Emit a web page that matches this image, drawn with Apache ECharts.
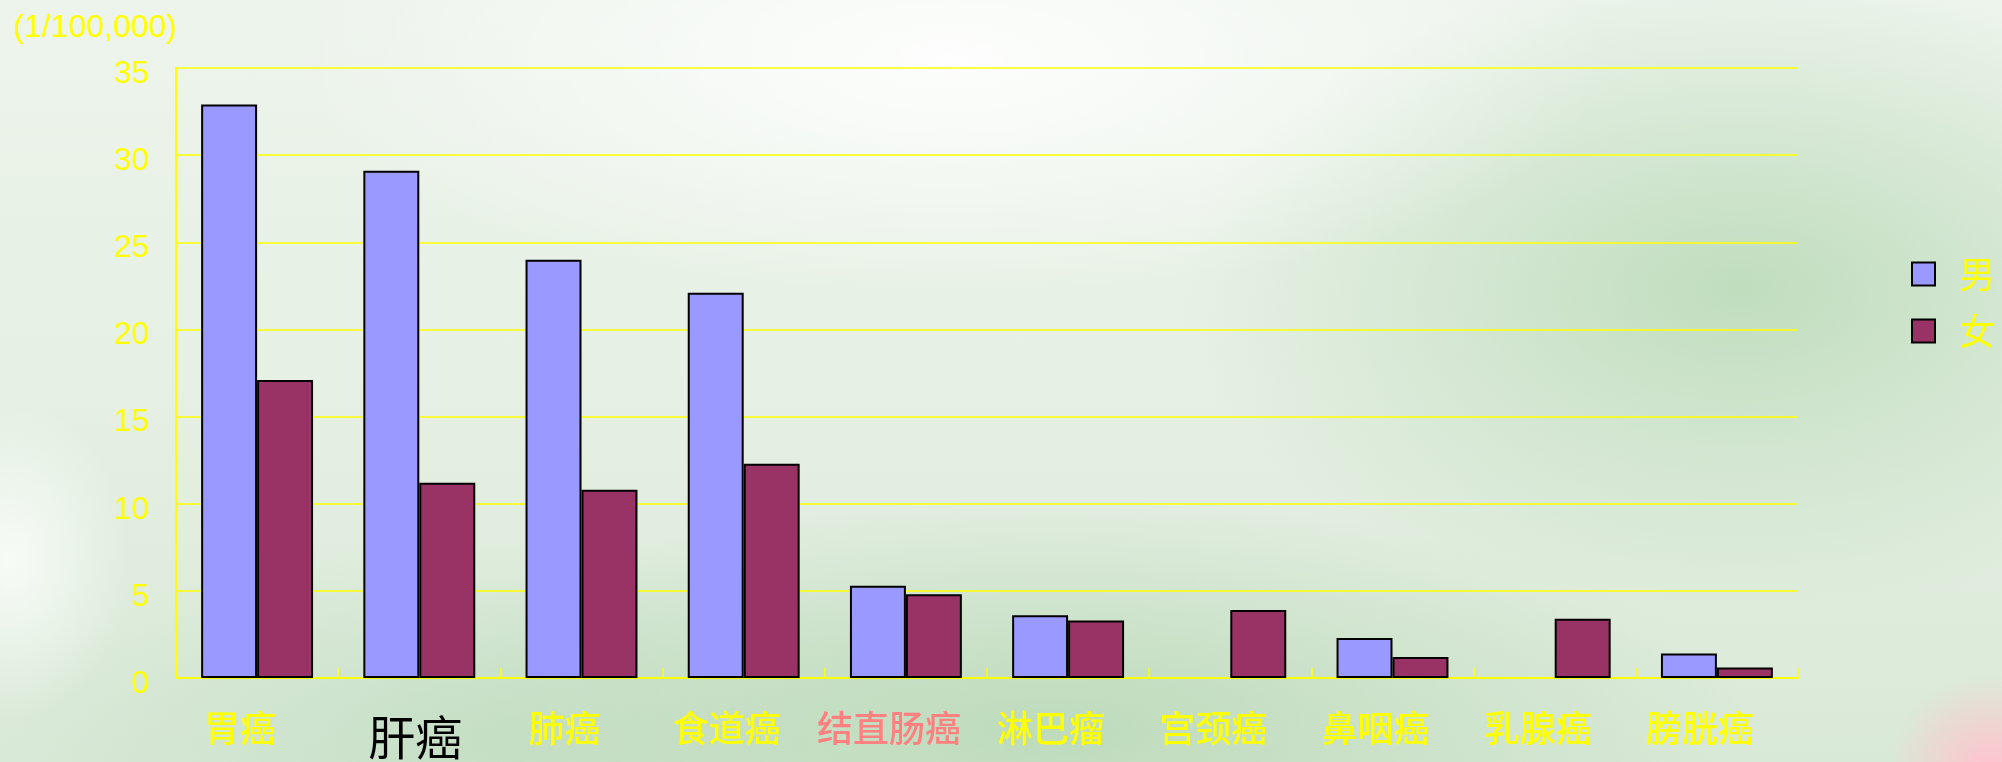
<!DOCTYPE html>
<html>
<head>
<meta charset="utf-8">
<script src="https://cdn.jsdelivr.net/npm/echarts@6/dist/echarts.min.js"></script>
<style>
html,body{margin:0;padding:0;width:2002px;height:762px;overflow:hidden;}
body{
background:
 radial-gradient(ellipse 100px 90px at 1990px 765px, rgba(255,195,205,1), rgba(255,215,220,0) 100%),
 radial-gradient(ellipse 660px 240px at 950px 60px, rgba(255,255,255,0.9), rgba(255,255,255,0) 100%),
 radial-gradient(ellipse 700px 230px at 1050px 730px, rgba(188,218,186,0.95), rgba(188,218,186,0) 100%),
 radial-gradient(ellipse 560px 320px at 1740px 290px, rgba(190,220,188,0.95), rgba(190,220,188,0) 100%),
 radial-gradient(ellipse 500px 200px at 500px 740px, rgba(195,222,195,0.85), rgba(195,222,195,0) 100%),
 radial-gradient(ellipse 120px 160px at 10px 560px, rgba(250,253,250,0.9), rgba(250,253,250,0) 100%),
 linear-gradient(to bottom, #edf4ec 0%, #e6f0e4 50%, #d9e9d7 100%);
}
#chart{width:2002px;height:762px;}
</style>
</head>
<body>
<div id="chart"></div>
<script>
const categories = ['胃癌','肝癌','肺癌','食道癌','结直肠癌','淋巴瘤','宫颈癌','鼻咽癌','乳腺癌','膀胱癌'];
const male = [32.9, 29.1, 24.0, 22.1, 5.3, 3.6, null, 2.3, null, 1.4];
const female = [17.1, 11.2, 10.8, 12.3, 4.8, 3.3, 3.9, 1.2, 3.4, 0.6];
const seriesNames = ['男','女'];
const yTicks = {min: 0, max: 35, interval: 5};
const unitLabel = '(1/100,000)';

const latin = '"Liberation Sans", Arial, sans-serif';
const cjk = '"Noto Sans CJK SC", sans-serif';
const yellow = '#ffff00';

const chart = echarts.init(document.getElementById('chart'), null, {renderer: 'canvas'});
chart.setOption({
  backgroundColor: 'transparent',
  animation: false,
  graphic: [{
    type: 'text', left: 13, top: 12,
    style: {text: unitLabel, fill: yellow, font: '32px ' + latin}
  }],
  legend: {
    orient: 'vertical', left: 1906, top: 251,
    itemWidth: 23, itemHeight: 23, itemGap: 21,
    icon: 'rect',
    data: seriesNames,
    textStyle: {color: yellow, fontSize: 36, fontFamily: cjk, lineHeight: 36, padding: [0,0,0,19]},
    itemStyle: {borderColor: '#000', borderWidth: 2}
  },
  grid: {left: 176, right: 204, top: 68, bottom: 84, containLabel: false},
  xAxis: {
    type: 'category', data: categories, boundaryGap: true,
    axisLine: {show: true, lineStyle: {color: yellow, width: 2}},
    axisTick: {show: true, inside: true, length: 10, lineStyle: {color: yellow, width: 1.5}},
    axisLabel: {
      margin: 32, interval: 0,
      formatter: function (v) {
        if (v === '肝癌') return '{b|' + v + '}';
        if (v === '结直肠癌') return '{p|' + v + '}';
        return '{y|' + v + '}';
      },
      rich: {
        y: {color: yellow, fontSize: 36, fontFamily: cjk, fontWeight: 500, padding: [0, 34, 0, 0]},
        b: {color: '#000', fontSize: 47, fontFamily: cjk, padding: [4, 8, 0, 0]},
        p: {color: '#ff8080', fontSize: 36, fontFamily: cjk, fontWeight: 500, padding: [0, 34, 0, 0]}
      }
    }
  },
  yAxis: {
    type: 'value', min: yTicks.min, max: yTicks.max, interval: yTicks.interval,
    axisLine: {show: true, lineStyle: {color: yellow, width: 2}},
    axisTick: {show: false},
    axisLabel: {
      margin: 27,
      formatter: function (v) { return '{n|' + v + '}'; },
      rich: {n: {color: yellow, fontSize: 32, fontFamily: latin, padding: [12, 0, 0, 0]}}
    },
    splitLine: {show: true, lineStyle: {color: yellow, width: 1.5}}
  },
  series: [
    {name: seriesNames[0], type: 'bar', data: male, barGap: '0%', barCategoryGap: '31%',
     itemStyle: {color: '#9999ff', borderColor: '#000', borderWidth: 2}},
    {name: seriesNames[1], type: 'bar', data: female, barGap: '0%', barCategoryGap: '31%',
     itemStyle: {color: '#993366', borderColor: '#000', borderWidth: 2}}
  ]
});
</script>
</body>
</html>
